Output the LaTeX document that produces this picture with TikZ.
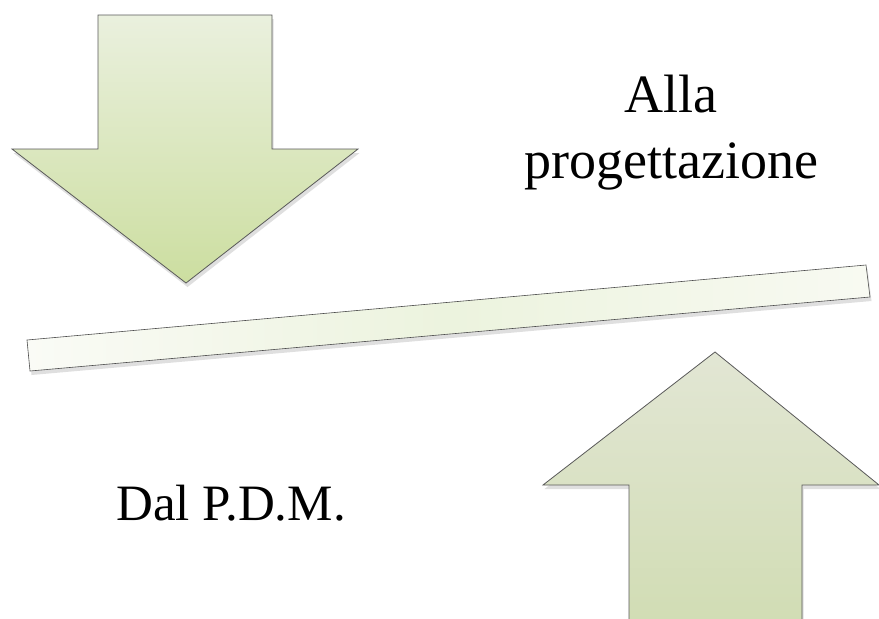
\documentclass[tikz,border=0pt]{standalone}
\usepackage{fontspec}
\setmainfont{Liberation Serif}
\usetikzlibrary{shadows}
\begin{document}
\begin{tikzpicture}[x=1pt,y=-1pt,
  arrowshape/.style={draw=black!65, line width=0.8pt, line join=miter,
    drop shadow={opacity=0.25, shadow xshift=1.5pt, shadow yshift=-4pt}},
  label/.style={align=center, inner sep=0pt}]
\useasboundingbox (0,0) rectangle (879,619);
\clip (0,0) rectangle (879,619);
\fill[white] (0,0) rectangle (879,619);
% down arrow
\path[arrowshape, top color={rgb,255:red,234;green,240;blue,222}, bottom color={rgb,255:red,204;green,222;blue,160}]
  (98,15) -- (272,15) -- (272,149) -- (358,149) -- (186,283) -- (12,149) -- (98,149) -- cycle;
% bar
\path[arrowshape, draw=black!70, line width=0.6pt, left color={rgb,255:red,250;green,251;blue,246}, right color={rgb,255:red,248;green,250;blue,242}, middle color={rgb,255:red,236;green,243;blue,222}]
  (27,340) -- (866,265) -- (870,297) -- (30,371) -- cycle;
% up arrow
\path[arrowshape, top color={rgb,255:red,226;green,230;blue,212}, bottom color={rgb,255:red,208;green,220;blue,178}]
  (715,352) -- (879,485) -- (802,485) -- (802,640) -- (629,640) -- (629,485) -- (543,485) -- cycle;
% texts
\node[label, font=\fontsize{54}{66}\selectfont, anchor=base] (top) at (671,178) {Alla\\progettazione};
\node[label, font=\fontsize{51}{60}\selectfont, anchor=base west] (bot) at (116,520) {Dal P.D.M.};
\end{tikzpicture}
\end{document}
